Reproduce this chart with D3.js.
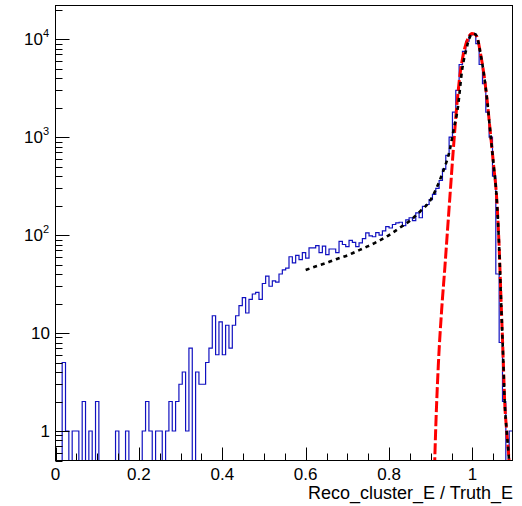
<!DOCTYPE html>
<html>
<head>
<meta charset="utf-8">
<script src="https://cdn.jsdelivr.net/npm/d3@7"></script>
<style>
  html, body { margin: 0; padding: 0; background: #fff; }
  text { font-family: "Liberation Sans", Arial, sans-serif; }
</style>
</head>
<body>
<div id="chart"></div>
<script>
// histogram: 137 bins of width 0.008 starting at 0
var binWidth = 0.008;
var counts = [
  0, 0, 5, 1, 0, 1, 1, 0, 2, 0,
  1, 0, 2, 0, 0, 0, 0, 0, 1, 0,
  0, 1, 0, 0, 0, 0, 1, 2, 1, 0,
  1, 1, 0, 1, 2, 1, 2, 3, 4, 1,
  7, 0, 4, 3, 3, 5, 7, 15, 6, 13,
  6, 12, 7, 12, 15, 19, 23, 16, 22, 25,
  26, 22, 32, 38, 30, 34, 33, 40, 44, 46,
  60, 52, 62, 56, 66, 58, 74, 74, 78, 66,
  77, 63, 72, 72, 66, 86, 80, 76, 88, 84,
  76, 83, 92, 105, 98, 96, 106, 100, 110, 122,
  118, 128, 133, 135, 125, 143, 150, 140, 168, 150,
  196, 205, 230, 260, 300, 360, 470, 650, 1000, 1800,
  3000, 5500, 7500, 9500, 11000, 11400, 9000, 5500, 3500, 1800,
  1000, 400, 40, 8, 2, 0, 1
];

// red dashed fit
var redX = [0.908, 0.912, 0.918, 0.926, 0.934, 0.940, 0.946, 0.954, 0.962, 0.970, 0.980, 0.990, 0.998, 1.005,
  1.011, 1.019, 1.027, 1.035, 1.043, 1.051, 1.058, 1.064, 1.068, 1.074, 1.077, 1.082, 1.087, 1.092];
var redY = [0.3, 1.1, 4.6, 17, 48, 110, 250, 740, 2000, 4300, 7600, 10300, 11400, 11200,
  10500, 7200, 4500, 2400, 1100, 500, 240, 75, 25, 5, 2.1, 1, 0.55, 0.2];

// black dashed fit
var blackX = [0.600, 0.625, 0.650, 0.675, 0.700, 0.725, 0.750, 0.775, 0.800, 0.825, 0.850, 0.875, 0.900,
  0.915, 0.930, 0.945, 0.955, 0.965, 0.975, 0.985, 0.995, 1.000, 1.005,
  1.011, 1.019, 1.027, 1.035, 1.043, 1.051, 1.058, 1.064, 1.068, 1.074, 1.077, 1.082, 1.087, 1.092];
var blackY = [44, 48, 52, 57, 62, 69, 77, 87, 100, 118, 140, 175, 230,
  310, 450, 720, 1200, 2000, 4800, 7800, 10800, 11400, 11300,
  10500, 7200, 4500, 2400, 1100, 500, 240, 75, 25, 5, 2.1, 1, 0.55, 0.2];

var xTicks = [0, 0.2, 0.4, 0.6, 0.8, 1];
var xTickLabels = ['0', '0.2', '0.4', '0.6', '0.8', '1'];
var yDecades = [1, 10, 100, 1000, 10000];
var yExponents = [null, null, '2', '3', '4'];
var xTitle = 'Reco_cluster_E / Truth_E';

var W = 522, H = 506;
var frame = { l: 55.5, r: 512.5, t: 5.5, b: 460.5 };

var svg = d3.select('#chart').append('svg')
  .attr('width', W).attr('height', H);

svg.append('rect').attr('width', W).attr('height', H).attr('fill', '#fff');

var x = d3.scaleLinear().domain([0, binWidth * counts.length]).range([frame.l, frame.r]);
var y = d3.scaleLog().domain([0.5, 22000]).range([frame.b, frame.t]);

svg.append('clipPath').attr('id', 'plotclip')
  .append('rect')
  .attr('x', frame.l).attr('y', frame.t)
  .attr('width', frame.r - frame.l).attr('height', frame.b - frame.t);

var plot = svg.append('g').attr('clip-path', 'url(#plotclip)');

// zero bins drop below the frame on a log axis
function yv(v) { return v > 0 ? y(v) : frame.b + 20; }

var steps = counts.map(function(c, i) { return [i * binWidth, c]; });
steps.push([counts.length * binWidth, counts[counts.length - 1]]);

var histLine = d3.line()
  .x(function(d) { return x(d[0]); })
  .y(function(d) { return yv(d[1]); })
  .curve(d3.curveStepAfter);

plot.append('path')
  .datum(steps)
  .attr('d', histLine)
  .attr('fill', 'none')
  .attr('stroke', '#1010c0')
  .attr('stroke-width', 1.2);

var fitLine = d3.line()
  .x(function(d) { return x(d[0]); })
  .y(function(d) { return y(d[1]); })
  .curve(d3.curveMonotoneX);

plot.append('path')
  .datum(d3.zip(redX, redY))
  .attr('d', fitLine)
  .attr('fill', 'none')
  .attr('stroke', '#ff0000')
  .attr('stroke-width', 3)
  .attr('stroke-dasharray', '11,3');

plot.append('path')
  .datum(d3.zip(blackX, blackY))
  .attr('d', fitLine)
  .attr('fill', 'none')
  .attr('stroke', '#000')
  .attr('stroke-width', 2.6)
  .attr('stroke-dasharray', '4,4');

// frame
svg.append('rect')
  .attr('x', frame.l).attr('y', frame.t)
  .attr('width', frame.r - frame.l).attr('height', frame.b - frame.t)
  .attr('fill', 'none').attr('stroke', '#000').attr('stroke-width', 1);

var axes = svg.append('g').attr('stroke', '#000').attr('stroke-width', 1);

// x ticks, inside the frame
d3.range(0, 22).forEach(function(k) {
  var v = k * 0.05;
  if (v > x.domain()[1]) return;
  var major = k % 4 === 0;
  var px = Math.round(x(v)) + 0.5;
  axes.append('line')
    .attr('x1', px).attr('x2', px)
    .attr('y1', frame.b).attr('y2', frame.b - (major ? 13 : 7));
});

svg.selectAll('.xlab')
  .data(xTicks)
  .enter().append('text')
  .attr('class', 'xlab')
  .attr('x', function(d) { return x(d); })
  .attr('y', 480)
  .attr('text-anchor', 'middle')
  .attr('font-size', 17)
  .text(function(d, i) { return xTickLabels[i]; });

// y ticks: decades major, 2..9 minor
var yMinor = [];
[0.1, 1, 10, 100, 1000, 10000].forEach(function(dec) {
  for (var m = 1; m <= 9; m++) {
    var v = dec * m;
    if (v >= y.domain()[0] && v <= y.domain()[1]) yMinor.push({ v: v, major: m === 1 });
  }
});
yMinor.forEach(function(t) {
  var py = Math.round(y(t.v)) + 0.5;
  axes.append('line')
    .attr('x1', frame.l).attr('x2', frame.l + (t.major ? 14 : 7))
    .attr('y1', py).attr('y2', py);
});

yDecades.forEach(function(v, i) {
  var t = svg.append('text')
    .attr('x', yExponents[i] ? 49 : 50)
    .attr('y', y(v) + 6)
    .attr('text-anchor', 'end')
    .attr('font-size', 17);
  if (yExponents[i]) {
    t.append('tspan').text('10');
    t.append('tspan').attr('font-size', 11).attr('dy', -8).text(yExponents[i]);
  } else {
    t.text(v === 1 ? '1' : '10');
  }
});

svg.append('text')
  .attr('x', 513)
  .attr('y', 499)
  .attr('text-anchor', 'end')
  .attr('font-size', 18)
  .text(xTitle);
</script>
</body>
</html>
